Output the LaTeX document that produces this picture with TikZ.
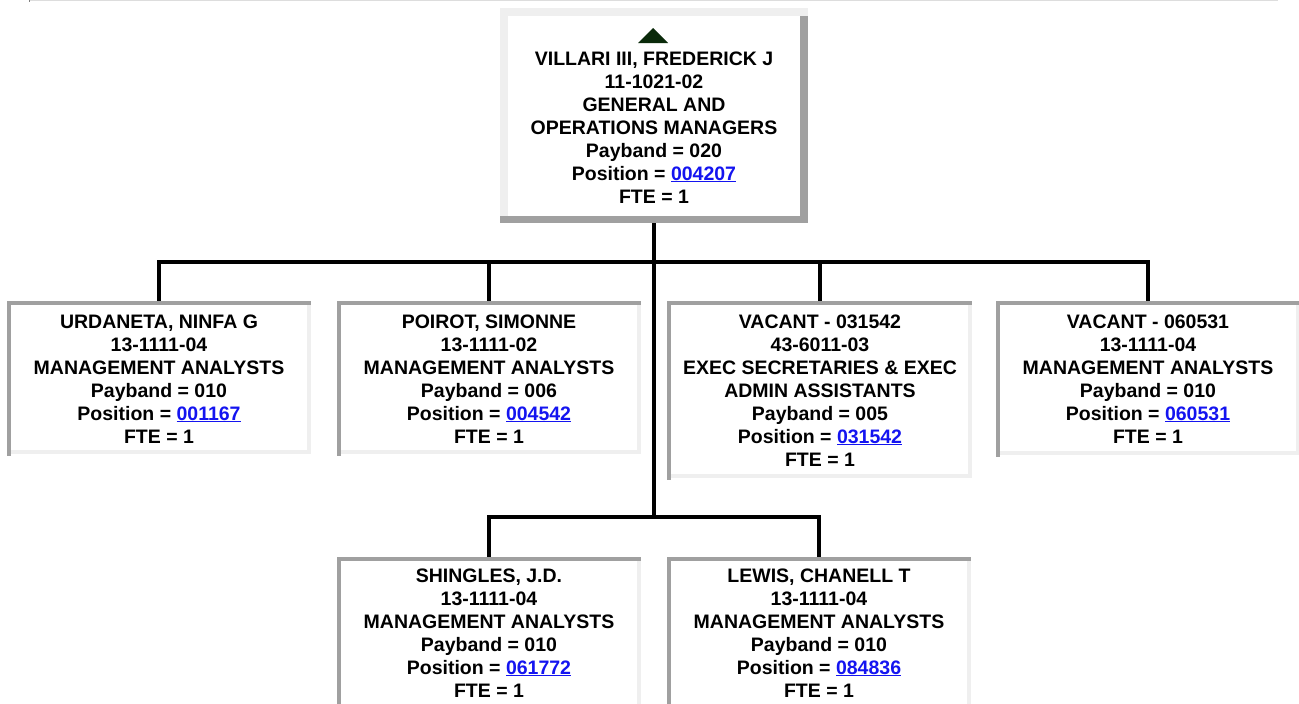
\documentclass[tikz,border=0pt]{standalone}
\usepackage{fontspec}
\setmainfont{Liberation Sans}
\definecolor{lite}{HTML}{EFEFEF}
\definecolor{darkgr}{HTML}{A0A0A0}
\definecolor{linkblue}{HTML}{1414F0}
\definecolor{trig}{HTML}{0A2A0A}
\definecolor{rulegr}{HTML}{DDDDDD}
\newcommand{\lnk}[1]{\textcolor{linkblue}{\setbox0\hbox{#1}\rlap{\rule[-2.4pt]{\wd0}{1.7pt}}\box0}}
\newcommand{\childborder}[1]{%
  \fill[darkgr] (#1.north west) rectangle ([yshift=-4pt]#1.north east);
  \fill[darkgr] (#1.north west) rectangle ([xshift=4pt,yshift=-2pt]#1.south west);
  \fill[lite] ([yshift=-4pt]#1.north east) rectangle ([xshift=-4pt]#1.south east);
  \fill[lite] ([xshift=4pt]#1.south west) rectangle ([yshift=4pt]#1.south east);
}
\tikzset{
  boxshape/.style={rectangle, inner sep=0pt, anchor=north west},
  txt/.style={align=center, inner sep=0pt, anchor=base,
    font=\fontsize{19.5}{23}\selectfont\bfseries},
  conn/.style={draw=black, line width=4pt}
}
\begin{document}
\begin{tikzpicture}[x=1pt,y=-1pt]
\useasboundingbox (0,0) rectangle (1299,704);
\clip (0,0) rectangle (1299,704);
\fill[white] (0,0) rectangle (1299,704);
% top rule
\fill[rulegr] (29,0) rectangle (1278,1.3);
\fill[gray] (29,0) rectangle (30.2,1.6);
% boxes
\node[boxshape, minimum width=308pt, minimum height=215pt] (top) at (500,8) {};
\node[boxshape, minimum width=304pt, minimum height=153pt] (b1) at (7,301) {};
\node[boxshape, minimum width=304pt, minimum height=153pt] (b2) at (337,301) {};
\node[boxshape, minimum width=305pt, minimum height=177pt] (b3) at (667,301) {};
\node[boxshape, minimum width=304pt, minimum height=154pt] (b4) at (996,301) {};
\node[boxshape, minimum width=304pt, minimum height=170pt] (b5) at (337,557) {};
\node[boxshape, minimum width=304pt, minimum height=170pt] (b6) at (667,557) {};
\coordinate (bus) at (654,262);
\coordinate (junc) at (654,517);
% connectors
\draw[conn] (top.south) -- (top.south |- junc);
\draw[conn] (b1.north) -- (b1.north |- bus) -- (b4.north |- bus) -- (b4.north);
\draw[conn] (b2.north) -- (b2.north |- bus);
\draw[conn] (b3.north) -- (b3.north |- bus);
\draw[conn] (b5.north) -- (b5.north |- junc) -- (b6.north |- junc) -- (b6.north);
% top box borders
\fill[lite] (top.north west) rectangle ([yshift=-8pt]top.north east);
\fill[lite] (top.north west) rectangle ([xshift=8pt,yshift=7pt]top.south west);
\fill[darkgr] ([xshift=-8pt,yshift=-8pt]top.north east) rectangle (top.south east);
\fill[darkgr] (top.south west) rectangle ([yshift=7pt]top.south east);
\childborder{b1}
\childborder{b2}
\childborder{b3}
\childborder{b4}
\childborder{b5}
\childborder{b6}
% triangle
\fill[trig] (638,43) -- (653,28) -- (668,43) -- cycle;
% texts (base anchor = baseline of last line)
\node[txt] (ttop) at (654,203) {VILLARI III, FREDERICK J\\11-1021-02\\GENERAL AND\\OPERATIONS MANAGERS\\Payband = 020\\Position = \lnk{004207}\\FTE = 1};
\node[txt] (t1) at (159,443) {URDANETA, NINFA G\\13-1111-04\\MANAGEMENT ANALYSTS\\Payband = 010\\Position = \lnk{001167}\\FTE = 1};
\node[txt] (t2) at (489,443) {POIROT, SIMONNE\\13-1111-02\\MANAGEMENT ANALYSTS\\Payband = 006\\Position = \lnk{004542}\\FTE = 1};
\node[txt] (t3) at (820,466) {VACANT - 031542\\43-6011-03\\EXEC SECRETARIES \& EXEC\\ADMIN ASSISTANTS\\Payband = 005\\Position = \lnk{031542}\\FTE = 1};
\node[txt] (t4) at (1148,443) {VACANT - 060531\\13-1111-04\\MANAGEMENT ANALYSTS\\Payband = 010\\Position = \lnk{060531}\\FTE = 1};
\node[txt] (t5) at (489,697) {SHINGLES, J.D.\\13-1111-04\\MANAGEMENT ANALYSTS\\Payband = 010\\Position = \lnk{061772}\\FTE = 1};
\node[txt] (t6) at (819,697) {LEWIS, CHANELL T\\13-1111-04\\MANAGEMENT ANALYSTS\\Payband = 010\\Position = \lnk{084836}\\FTE = 1};
\end{tikzpicture}
\end{document}
